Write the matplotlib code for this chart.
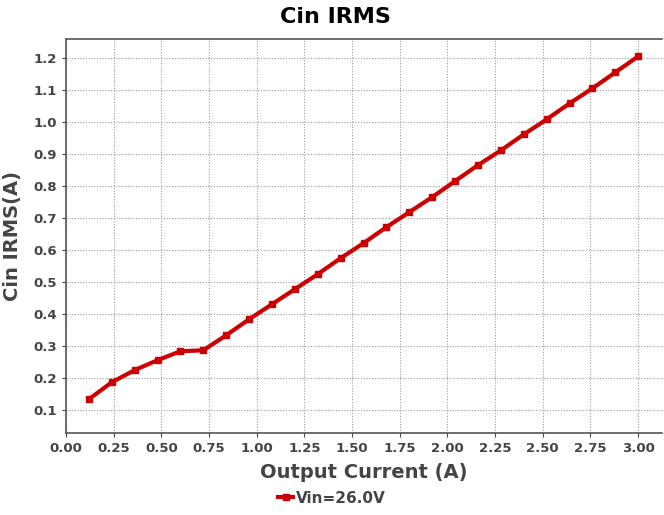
import matplotlib
matplotlib.use('Agg')
import matplotlib.pyplot as plt
import numpy as np

# dados
corrente = [0.12, 0.24, 0.36, 0.48, 0.60, 0.72, 0.84, 0.96, 1.08, 1.20, 1.32, 1.44, 1.56,
            1.68, 1.80, 1.92, 2.04, 2.16, 2.28, 2.40, 2.52, 2.64, 2.76, 2.88, 3.00]
irms = [0.134, 0.187, 0.225, 0.256, 0.284, 0.287, 0.334, 0.384, 0.431, 0.478, 0.525, 0.575, 0.622,
        0.672, 0.719, 0.766, 0.816, 0.866, 0.912, 0.962, 1.009, 1.059, 1.106, 1.156, 1.206]
xticks = np.arange(0, 3.01, 0.25)
yticks = np.arange(0.1, 1.21, 0.1)

cinza = '#444444'
plt.rcParams['font.family'] = 'DejaVu Sans'

fig = plt.figure(figsize=(6.64, 5.15), dpi=100)
ax = fig.add_axes([0.0994, 0.159, 0.8976, 0.765])

ax.plot(corrente, irms, color='#cc0000', lw=3, marker='s', markersize=5, label='Vin=26.0V')

ax.set_xlim(0, 3.125)
ax.set_ylim(0.028, 1.26)
ax.set_xticks(xticks)
ax.set_xticklabels(['%.2f' % v for v in xticks])
ax.set_yticks(yticks)
ax.set_yticklabels(['%.1f' % v for v in yticks])
ax.tick_params(colors=cinza, labelsize=9.5, length=3)
for lbl in ax.get_xticklabels() + ax.get_yticklabels():
    lbl.set_fontweight('bold')

ax.grid(True, color='#999999', linestyle=(0, (1, 1.5)), lw=0.8)
for s in ['left', 'bottom', 'top']:
    ax.spines[s].set_color('#555555')
    ax.spines[s].set_linewidth(1.2)
ax.spines['right'].set_visible(False)

# titulo centrado na figura
fig.suptitle('Cin IRMS', x=0.505, y=0.967, fontsize=16, fontweight='bold', va='center')
ax.set_xlabel('Output Current (A)', fontsize=14, fontweight='bold', color=cinza, labelpad=6)
ax.set_ylabel('Cin IRMS(A)', fontsize=14, fontweight='bold', color=cinza, labelpad=8)

leg = fig.legend(loc='center', bbox_to_anchor=(0.5, 0.033), frameon=False,
                 handlelength=1.0, handletextpad=0.2, prop={'weight': 'bold', 'size': 11})
for t in leg.get_texts():
    t.set_color(cinza)

fig.savefig('out.png', dpi=100)
